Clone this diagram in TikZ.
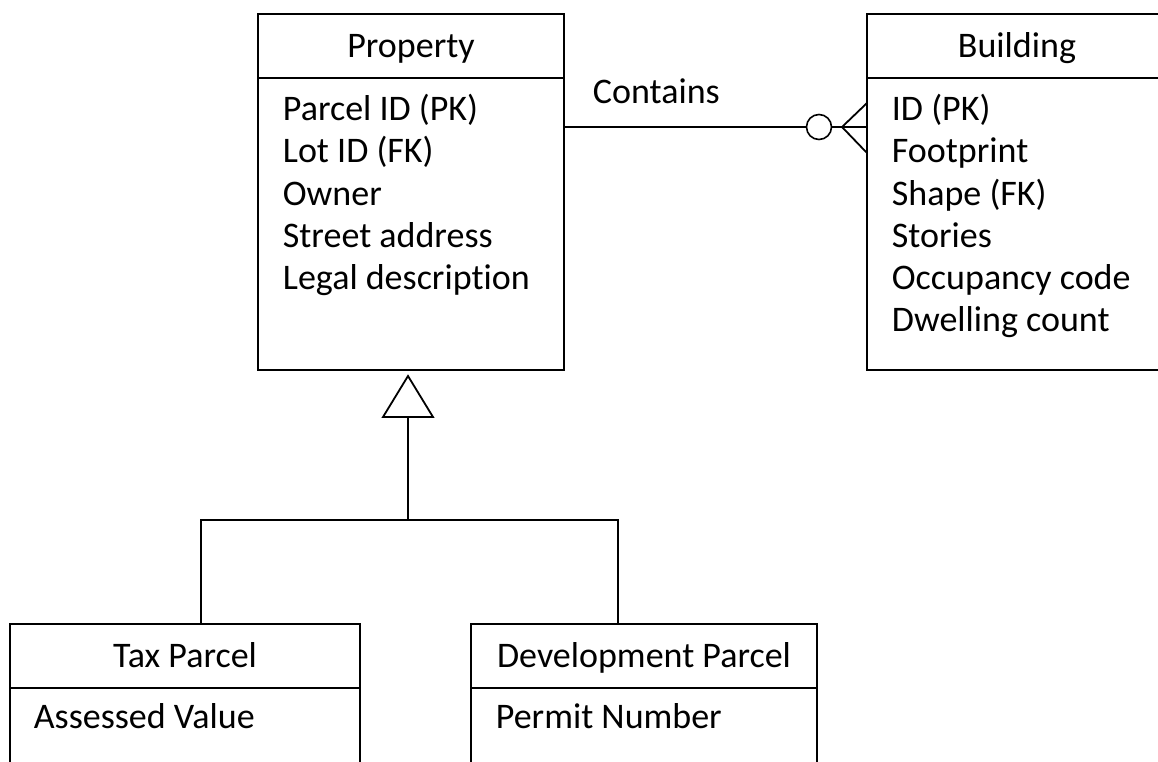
\documentclass[tikz,border=0pt]{standalone}
\usepackage{fontspec}
\setmainfont{Carlito}[Ligatures=NoCommon]
\usetikzlibrary{positioning}

\begin{document}
\begin{tikzpicture}[x=1pt,y=-1pt,line width=1.8pt,
  every node/.style={font=\fontsize{36}{42}\selectfont,inner sep=0pt},
  hdr/.style={draw,anchor=north west,outer sep=0pt,minimum height=64pt,
    text height=23pt,text depth=0pt},
  body/.style={draw,outer sep=0pt,minimum height=292pt},
  attr/.style={anchor=base west}]
\useasboundingbox (0,0) rectangle (1158,762);
% entities: header part and attribute part
\node[hdr,minimum width=306pt] (prop) at (258,14) {Property};
\node[body,minimum width=306pt,below=0pt of prop] (propbody) {};
\node[hdr,minimum width=300pt] (bld) at (867,14) {Building};
\node[body,minimum width=300pt,below=0pt of bld] (bldbody) {};
\node[hdr,minimum width=350pt] (tax) at (10,624) {Tax Parcel};
\node[body,minimum width=350pt,minimum height=100pt,below=0pt of tax] (taxbody) {};
\node[hdr,minimum width=346pt] (dev) at (471,624) {Development Parcel};
\node[body,minimum width=346pt,minimum height=100pt,below=0pt of dev] (devbody) {};

\foreach \txt [count=\i] in {Parcel ID (PK),Lot ID (FK),Owner,Street address,
    Legal description}
  \node[attr] (prop-\i) at (282,79+42*\i) {\txt};
\foreach \txt [count=\i] in {ID (PK),Footprint,Shape (FK),Stories,
    Occupancy code,Dwelling count}
  \node[attr] (bld-\i) at (891,79+42*\i) {\txt};
\node[attr] (tax-1) at (33,728) {Assessed Value};
\node[attr] (dev-1) at (495,728) {Permit Number};

% one-to-many relationship
\node[draw,circle,minimum size=25pt,line width=1.6pt] (ring) at (819,127) {};
\coordinate (foot) at (842,127);
\draw (propbody.east |- ring) -- (ring);
\node[attr] (contains) at (592,104) {Contains};
\draw (ring) -- (foot);
\draw (foot) -- ++(25,-24) (foot) -- ++(25,0) (foot) -- ++(25,26);

% generalisation
\coordinate (apex) at (408,376);
\coordinate (tbase) at (408,417);
\coordinate (split) at (408,520);
\draw[line join=miter] (apex) -- ++(25,41) -- ++(-50,0) -- cycle;
\draw (tbase) -- (split);
\draw ([xshift=16pt]tax.north) |- (split) -| ([xshift=-26pt]dev.north);
\end{tikzpicture}
\end{document}
